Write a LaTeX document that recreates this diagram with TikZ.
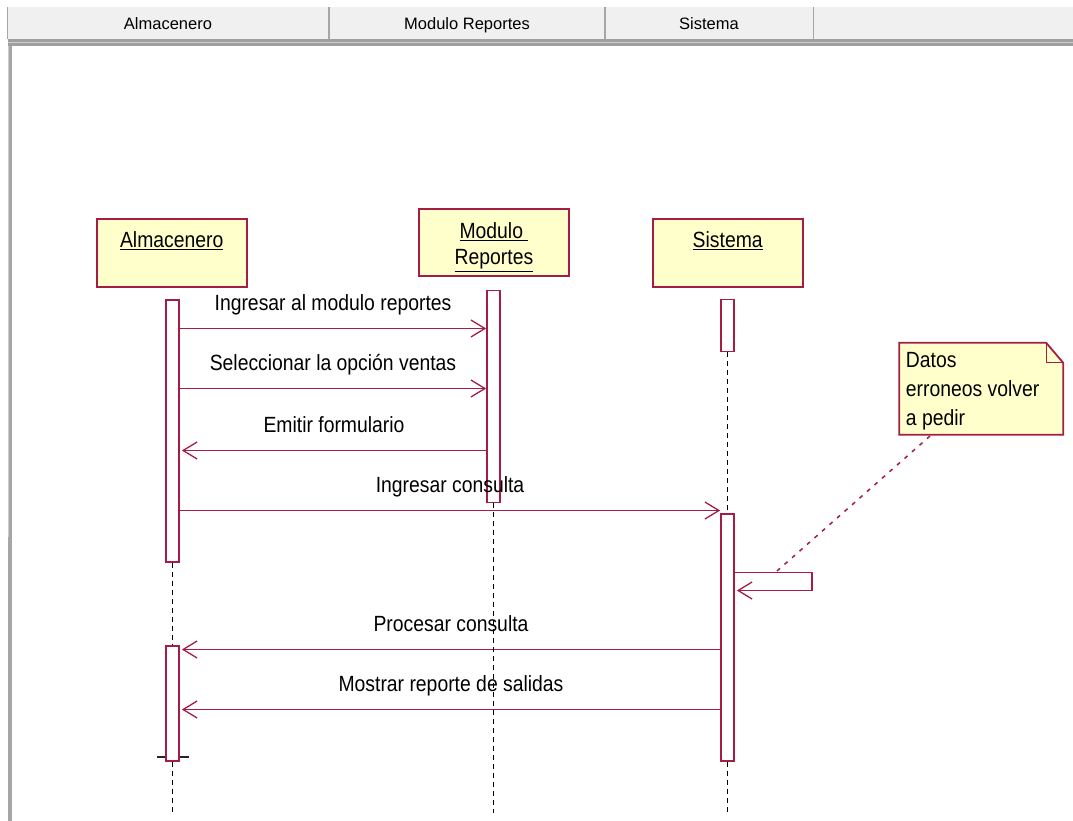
\documentclass[tikz,border=0pt]{standalone}
\usepackage{fontspec}
\setmainfont{Liberation Sans}
\newfontfamily\umlfont[FakeStretch=0.88]{Liberation Sans}
\usetikzlibrary{positioning,arrows.meta}
\definecolor{umlred}{RGB}{165,28,68}
\definecolor{umlfill}{RGB}{255,255,204}
\definecolor{barbg}{RGB}{240,240,240}

\begin{document}
\begin{tikzpicture}[x=1pt,y=-1pt,
  objbox/.style={draw=umlred,fill=umlfill,line width=2pt,minimum width=150pt,minimum height=68pt,inner sep=0},
  objname/.style={inner sep=0,align=center,font=\umlfont\fontsize{22}{26.7}\selectfont},
  actbar/.style={draw=umlred,fill=white,line width=1.7pt,minimum width=13pt,inner sep=0,anchor=north},
  lifeline/.style={black,line width=1.8pt,dash pattern=on 5pt off 4pt},
  msg/.style={umlred,line width=1.6pt,-{Straight Barb[length=14pt,width=17pt,line width=1.3pt]}},
  msglabel/.style={inner sep=0,text height=16pt,text depth=5pt,black,font=\umlfont\fontsize{22}{26}\selectfont},
  notetext/.style={inner sep=0,align=left,font=\umlfont\fontsize{22}{29.3}\selectfont},
  notelink/.style={umlred,line width=1.5pt,dash pattern=on 4pt off 6pt},
  headtext/.style={inner sep=0,anchor=base,font=\fontsize{16.5}{20}\selectfont}]
\useasboundingbox (0,0) rectangle (1073,821);
\fill[white] (0,0) rectangle (1073,821);
% window header
\fill[barbg] (7.5,7) rectangle (1073,39);
\fill[gray!75] (7.5,39) rectangle (1073,46);
\draw[gray!40,line width=1pt] (7.5,42.5) -- (1073,42.5);
\fill[gray!70] (7.5,46) rectangle (11.5,821);
\fill[gray!40] (7.5,46) rectangle (9,537);
\foreach \x in {7.5,329,605,813.5} \draw[gray!70,line width=1.5pt] (\x,7) -- (\x,39);
\node[headtext] (hAlm) at (168,29.3) {Almacenero};
\node[headtext] (hMod) at (467,29.3) {Modulo Reportes};
\node[headtext] (hSis) at (709,29.3) {Sistema};
% objects
\node[objbox] (alm) at (171.7,252.5) {};
\node[objbox,minimum height=67pt] (mod) at (494,242.5) {};
\node[objbox] (sis) at (727.7,252.5) {};
\node[objname,below=14pt of alm.north] (almName) {\underline{Almacenero}};
\node[objname,below=14pt of mod.north] (modName) {\underline{Modulo\ }\\\underline{Reportes}};
\node[objname,below=14pt of sis.north] (sisName) {\underline{Sistema}};
% lifelines
\coordinate (almEnd) at (172.5,813);
\coordinate (modEnd) at (493.5,813);
\coordinate (sisEnd) at (727.5,813);
\node[actbar,draw=none,fill=none,minimum height=262pt] (almA) at (172.5,299) {};
\node[actbar,draw=none,fill=none,minimum height=115pt] (almB) at (172.5,645) {};
\node[actbar,draw=none,fill=none,minimum height=212pt] (modA) at (493.5,289.5) {};
\node[actbar,draw=none,fill=none,minimum height=52pt] (sisA) at (727.5,298.5) {};
\node[actbar,draw=none,fill=none,minimum height=247pt] (sisB) at (727.5,513) {};
\draw[gray!30!black,line width=2pt] ([xshift=-15.5pt,yshift=5pt]almB.south) -- ([xshift=16.5pt,yshift=5pt]almB.south);
\node[actbar,minimum height=262pt] at (almA.north) {};
\node[actbar,minimum height=115pt] at (almB.north) {};
\node[actbar,minimum height=212pt] at (modA.north) {};
\node[actbar,minimum height=52pt] at (sisA.north) {};
\node[actbar,minimum height=247pt] at (sisB.north) {};
% messages
\foreach \n/\y in {1/328.5,2/388.5,3/450.5,4/510.5,6/649.5,7/709.5} \coordinate (y\n) at (0,\y);
\draw[msg] (almA.east |- y1) -- node[msglabel,midway,above=12pt] {Ingresar al modulo reportes} (modA.west |- y1);
\draw[msg] (almA.east |- y2) -- node[msglabel,midway,above=12pt] {Seleccionar la opción ventas} (modA.west |- y2);
\draw[msg] (modA.west |- y3) -- node[msglabel,midway,above=12pt] {Emitir formulario} ([xshift=2pt]almA.east |- y3);
\draw[msg] (almA.east |- y4) -- node[msglabel,midway,above=12pt] {Ingresar consulta} (sisB.west |- y4);
\draw[msg] (sisB.west |- y6) -- node[msglabel,midway,above=12pt] {Procesar consulta} ([xshift=2pt]almB.east |- y6);
\draw[msg] (sisB.west |- y7) -- node[msglabel,midway,above=12pt] {Mostrar reporte de salidas} ([xshift=2pt]almB.east |- y7);
\coordinate (selfA) at (812,572.5);
\coordinate (selfB) at (812,590.5);
\draw[msg] (sisB.east |- selfA) -- (selfA) -- (selfB) -- ([xshift=2pt]sisB.east |- selfB);
\draw[lifeline] (almA.south) -- (almB.north);
\draw[lifeline] (almB.south) -- (almEnd);
\draw[lifeline] (modA.south) -- (modEnd);
\draw[lifeline] (sisA.south) -- (sisB.north);
\draw[lifeline] (sisB.south) -- (sisEnd);
% note
\node[minimum width=163.5pt,minimum height=91.5pt,inner sep=0] (note) at (981.2,388.7) {};
\draw[umlred,fill=umlfill,line width=1.8pt] (note.south west) -- (note.north west) -- ([xshift=-17pt]note.north east) -- ([yshift=-20pt]note.north east) -- (note.south east) -- cycle;
\draw[umlred,line width=1.3pt] ([xshift=-17pt]note.north east) |- ([yshift=-20pt]note.north east);
\node[notetext,anchor=north west] (noteText) at ([xshift=6.5pt,yshift=-9pt]note.north west) {Datos\\erroneos volver\\a pedir};
\coordinate (noteFoot) at (930,436);
\coordinate (selfTop) at (777,571);
\draw[notelink] (noteFoot) -- (selfTop);
\end{tikzpicture}
\end{document}
